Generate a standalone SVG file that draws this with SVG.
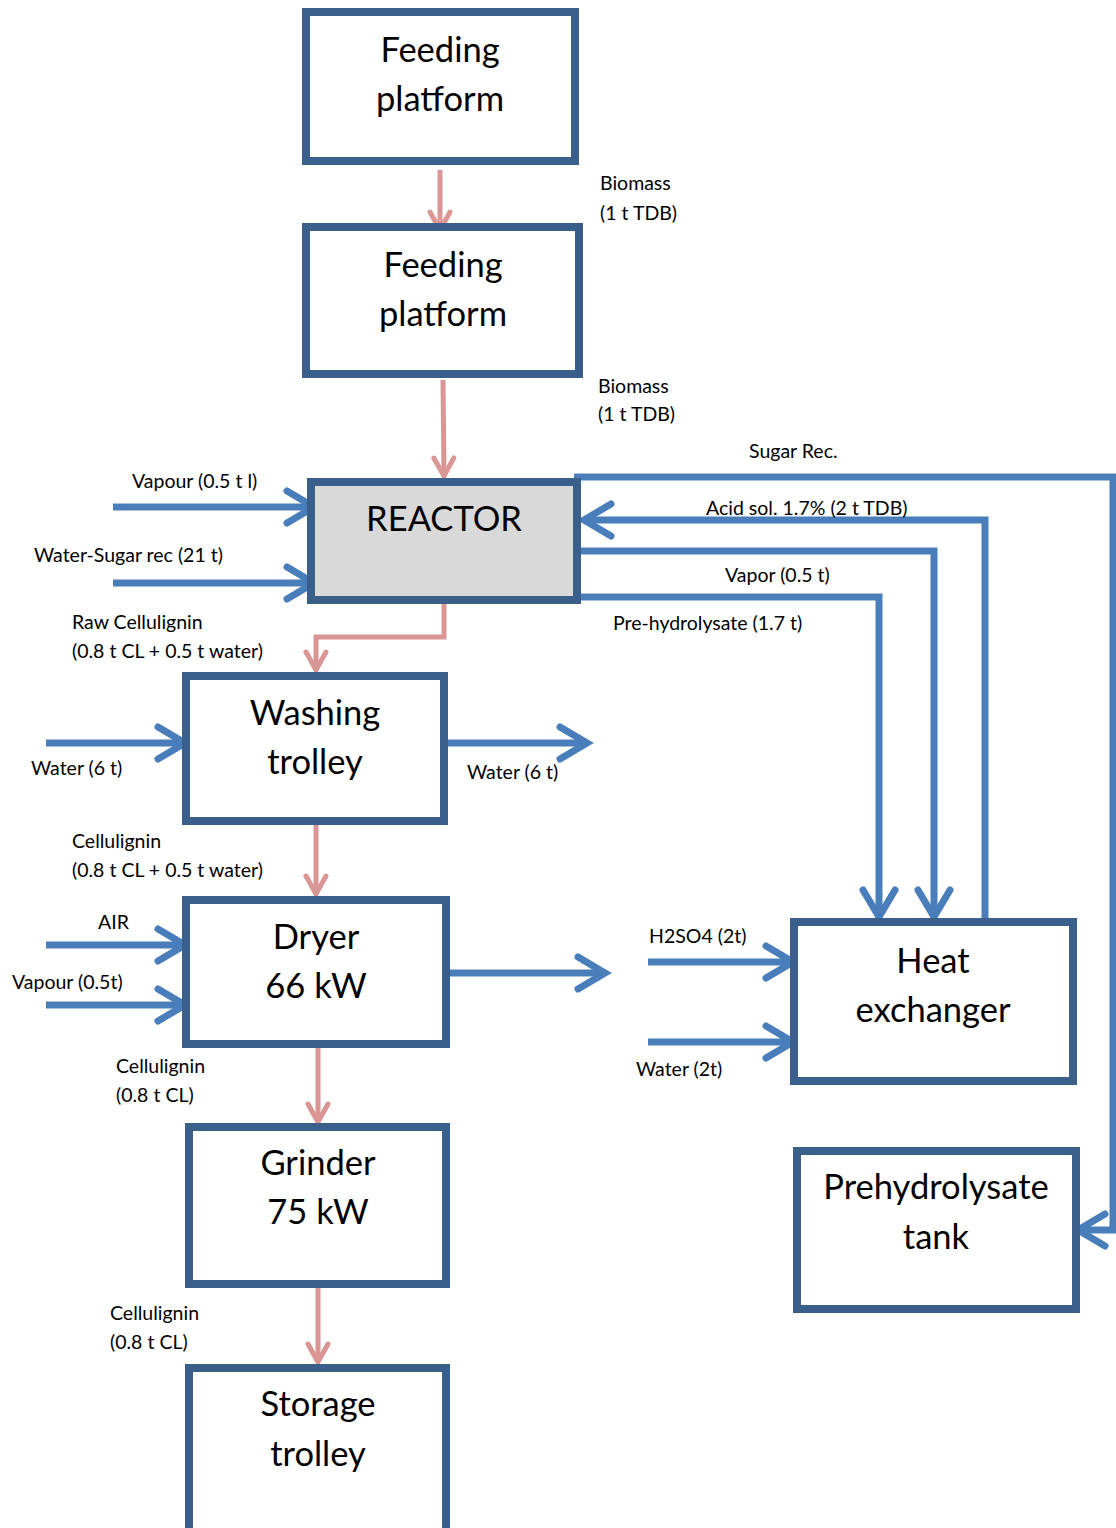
<svg xmlns="http://www.w3.org/2000/svg" width="1116" height="1528" viewBox="0 0 1116 1528">
<style>
.box{fill:#FFFFFF;stroke:#3A5F8B;stroke-width:8}
.reactor{fill:#D9D9D9;stroke:#3A5F8B;stroke-width:8}
.title{font-family:Lato,"Liberation Sans",sans-serif;font-size:34.5px;fill:#000;text-anchor:middle}
.lbl{font-family:Lato,"Liberation Sans",sans-serif;font-size:19.5px;fill:#000}
.blue{fill:none;stroke:#4A7EBB;stroke-width:7;marker-end:url(#ab)}
.pink{fill:none;stroke:#D99694;stroke-width:5;marker-end:url(#ap)}
</style>
<defs>
<marker id="ab" markerUnits="userSpaceOnUse" orient="auto" markerWidth="60" markerHeight="60" refX="0" refY="0" viewBox="-40 -30 60 60" overflow="visible">
<path d="M-27,-16 L0,0 L-27,16" fill="none" stroke="#4A7EBB" stroke-width="7" stroke-linecap="round" stroke-linejoin="miter"/>
</marker>
<marker id="ap" markerUnits="userSpaceOnUse" orient="auto" markerWidth="40" markerHeight="40" refX="0" refY="0" viewBox="-30 -20 40 40" overflow="visible">
<path d="M-18,-10 L0,0 L-18,10" fill="none" stroke="#D99694" stroke-width="5" stroke-linecap="round"/>
</marker>
</defs>
<rect width="1116" height="1528" fill="#FFFFFF"/>

<g id="connectors">
<path class="pink" d="M440,170 L440,230"/>
<path class="pink" d="M443,380 L444,476"/>
<path class="pink" d="M444,604 L444,637 L316,637 L316,670"/>
<path class="pink" d="M316,825 L316,894"/>
<path class="pink" d="M318,1048 L318,1122"/>
<path class="pink" d="M318,1288 L318,1362"/>
<path class="blue" d="M113,507 L314,507"/>
<path class="blue" d="M113,583 L314,583"/>
<path class="blue" d="M46,743 L185,743"/>
<path class="blue" d="M448,743 L587,743"/>
<path class="blue" d="M46,945 L185,945"/>
<path class="blue" d="M46,1005 L185,1005"/>
<path class="blue" d="M450,973 L605,973"/>
<path class="blue" d="M648,962 L793,962"/>
<path class="blue" d="M648,1042 L793,1042"/>
<path class="blue" d="M574,477 L1113,477 L1113,1230 L1078,1230"/>
<path class="blue" d="M985,920 L985,520 L584,520"/>
<path class="blue" d="M578,551 L934,551 L934,917"/>
<path class="blue" d="M578,597 L879,597 L879,917"/>
</g>

<g id="feeding1"><rect class="box" x="306" y="12" width="269" height="149"/>
<text class="title" x="440" y="62">Feeding</text><text class="title" x="440" y="111">platform</text></g>
<g id="feeding2"><rect class="box" x="306" y="227" width="273" height="147"/>
<text class="title" x="443" y="277">Feeding</text><text class="title" x="443" y="326">platform</text></g>
<g id="reactor"><rect class="reactor" x="311" y="482" width="266" height="118"/>
<text class="title" x="444" y="531">REACTOR</text></g>
<g id="washing"><rect class="box" x="186" y="676" width="258" height="145"/>
<text class="title" x="315" y="725">Washing</text><text class="title" x="315" y="774">trolley</text></g>
<g id="dryer"><rect class="box" x="186" y="900" width="260" height="144"/>
<text class="title" x="316" y="949">Dryer</text><text class="title" x="316" y="998">66 kW</text></g>
<g id="grinder"><rect class="box" x="189" y="1127" width="257" height="157"/>
<text class="title" x="318" y="1175">Grinder</text><text class="title" x="318" y="1224">75 kW</text></g>
<g id="storage"><rect class="box" x="189" y="1368" width="257" height="170"/>
<text class="title" x="318" y="1416">Storage</text><text class="title" x="318" y="1466">trolley</text></g>
<g id="heatexchanger"><rect class="box" x="794" y="922" width="279" height="159"/>
<text class="title" x="933" y="973">Heat</text><text class="title" x="933" y="1022">exchanger</text></g>
<g id="prehydrolysate"><rect class="box" x="797" y="1151" width="279" height="158"/>
<text class="title" x="936" y="1199">Prehydrolysate</text><text class="title" x="936" y="1249">tank</text></g>

<g id="labels">
<text class="lbl" x="600" y="190">Biomass</text>
<text class="lbl" x="600" y="220">(1 t TDB)</text>
<text class="lbl" x="598" y="393">Biomass</text>
<text class="lbl" x="598" y="421">(1 t TDB)</text>
<text class="lbl" x="749" y="458">Sugar Rec.</text>
<text class="lbl" x="706" y="515">Acid sol. 1.7% (2 t TDB)</text>
<text class="lbl" x="725" y="582">Vapor (0.5 t)</text>
<text class="lbl" x="613" y="630">Pre-hydrolysate (1.7 t)</text>
<text class="lbl" x="132" y="488">Vapour (0.5 t l)</text>
<text class="lbl" x="34" y="562">Water-Sugar rec (21 t)</text>
<text class="lbl" x="72" y="629">Raw Cellulignin</text>
<text class="lbl" x="72" y="658">(0.8 t CL + 0.5 t water)</text>
<text class="lbl" x="31" y="775">Water (6 t)</text>
<text class="lbl" x="467" y="779">Water (6 t)</text>
<text class="lbl" x="72" y="848">Cellulignin</text>
<text class="lbl" x="72" y="877">(0.8 t CL + 0.5 t water)</text>
<text class="lbl" x="98" y="929">AIR</text>
<text class="lbl" x="12" y="989">Vapour (0.5t)</text>
<text class="lbl" x="649" y="943">H2SO4 (2t)</text>
<text class="lbl" x="636" y="1076">Water (2t)</text>
<text class="lbl" x="116" y="1073">Cellulignin</text>
<text class="lbl" x="116" y="1102">(0.8 t CL)</text>
<text class="lbl" x="110" y="1320">Cellulignin</text>
<text class="lbl" x="110" y="1349">(0.8 t CL)</text>
</g>
</svg>
